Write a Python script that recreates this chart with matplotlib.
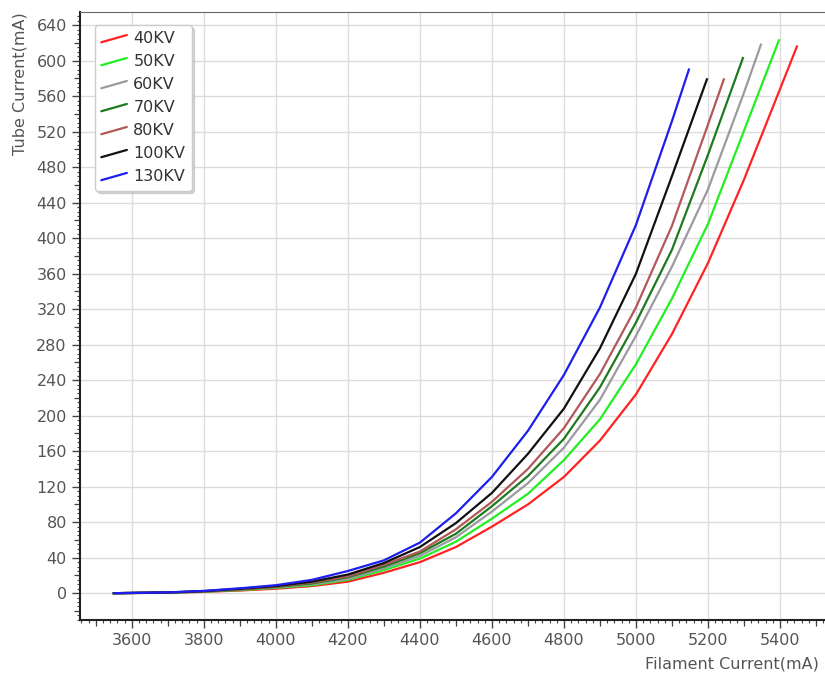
import matplotlib
matplotlib.use('Agg')
import matplotlib.pyplot as plt
from matplotlib.lines import Line2D
from matplotlib.legend_handler import HandlerLine2D
from matplotlib.ticker import MultipleLocator

# filament current (mA) / tube current (mA)
fil_40 = [3550, 3700, 3800, 3900, 4000, 4100, 4200, 4300, 4400, 4500, 4600, 4700, 4800, 4900, 5000, 5100, 5200, 5300, 5400, 5447]
tube_40 = [0, 0.5, 1.5, 3, 5, 8, 13, 23, 35, 52, 75, 100, 131, 172, 224, 292, 372, 466, 568, 616]

fil_50 = [3550, 3700, 3800, 3900, 4000, 4100, 4200, 4300, 4400, 4500, 4600, 4700, 4800, 4900, 5000, 5100, 5200, 5300, 5397]
tube_50 = [0, 0.6, 1.7, 3.5, 6, 9, 15, 26, 39, 58, 84, 112, 150, 196, 258, 332, 416, 521, 623]

fil_60 = [3550, 3700, 3800, 3900, 4000, 4100, 4200, 4300, 4400, 4500, 4600, 4700, 4800, 4900, 5000, 5100, 5200, 5300, 5347]
tube_60 = [0, 0.6, 2, 4, 6.5, 10, 16, 28, 42, 63, 92, 124, 164, 218, 290, 368, 455, 564, 618]

fil_70 = [3550, 3700, 3800, 3900, 4000, 4100, 4200, 4300, 4400, 4500, 4600, 4700, 4800, 4900, 5000, 5100, 5200, 5297]
tube_70 = [0, 0.7, 2, 4, 7, 11, 18, 30, 45, 67, 98, 132, 174, 232, 305, 387, 494, 603]

fil_80 = [3550, 3700, 3800, 3900, 4000, 4100, 4200, 4300, 4400, 4500, 4600, 4700, 4800, 4900, 5000, 5100, 5200, 5244]
tube_80 = [0, 0.7, 2, 4.5, 7.5, 12, 19, 32, 47, 72, 103, 140, 186, 247, 322, 414, 528, 579]

fil_100 = [3550, 3700, 3800, 3900, 4000, 4100, 4200, 4300, 4400, 4500, 4600, 4700, 4800, 4900, 5000, 5100, 5197]
tube_100 = [0, 0.8, 2.3, 5, 8, 13, 21, 34, 52, 79, 113, 157, 208, 276, 360, 470, 579]

fil_130 = [3550, 3700, 3800, 3900, 4000, 4100, 4200, 4300, 4400, 4500, 4600, 4700, 4800, 4900, 5000, 5100, 5147]
tube_130 = [0, 0.9, 2.6, 5.5, 9, 15, 25, 37, 57, 90, 131, 183, 246, 322, 415, 532, 590]

labels = ['40KV', '50KV', '60KV', '70KV', '80KV', '100KV', '130KV']
colors = ['#ff2222', '#22ee22', '#9a9aa0', '#1e7a1e', '#b25858', '#111111', '#1e1eee']
series = [(fil_40, tube_40), (fil_50, tube_50), (fil_60, tube_60), (fil_70, tube_70),
          (fil_80, tube_80), (fil_100, tube_100), (fil_130, tube_130)]


# legend keys in the reference are short slanted strokes
class SlantHandler(HandlerLine2D):
    def create_artists(self, legend, orig_handle, xdescent, ydescent, width, height, fontsize, trans):
        line = Line2D([-xdescent, -xdescent + width], [-ydescent + height * 0.1, -ydescent + height * 0.75],
                      color=orig_handle.get_color(), lw=orig_handle.get_linewidth(), solid_capstyle='round')
        line.set_transform(trans)
        return [line]


plt.rcParams['font.family'] = ['DejaVu Sans']
fig = plt.figure(figsize=(8.25, 6.8), dpi=100)
ax = fig.add_axes([0.097, 0.088, 0.903, 0.894])

for (xs, ys), lab, c in zip(series, labels, colors):
    ax.plot(xs, ys, color=c, lw=1.6, label=lab)

ax.set_xlim(3456, 5525)
ax.set_ylim(-30.4, 654.6)

ax.xaxis.set_major_locator(MultipleLocator(200))
ax.xaxis.set_minor_locator(MultipleLocator(20))
ax.yaxis.set_major_locator(MultipleLocator(40))
ax.yaxis.set_minor_locator(MultipleLocator(5))
ax.grid(True, which='major', color='#dcdcdc', lw=1)
ax.set_axisbelow(True)

ax.tick_params(which='major', length=6, width=1, color='#444444', labelsize=11.5, labelcolor='#555555')
ax.tick_params(which='minor', length=2.5, width=0.8, color='#444444')

# medium ticks halfway between the labelled ones
secx = ax.secondary_xaxis('bottom')
secx.set_xticks([3500 + 200 * i for i in range(11)])
secx.tick_params(length=4, width=0.9, color='#444444', labelbottom=False)
secx.spines['bottom'].set_visible(False)
secy = ax.secondary_yaxis('left')
secy.set_yticks([-20 + 40 * i for i in range(18)])
secy.tick_params(length=4, width=0.9, color='#444444', labelleft=False)
secy.spines['left'].set_visible(False)

for s in ['left', 'bottom']:
    ax.spines[s].set_color('#222222')
    ax.spines[s].set_linewidth(1.5)
ax.spines['top'].set_color('#666666')
ax.spines['top'].set_linewidth(0.8)
ax.spines['right'].set_visible(False)

ax.set_xlabel('Filament Current(mA)', loc='right', fontsize=11.5, color='#555555')
ax.xaxis.set_label_coords(0.992, -0.059)
ax.set_ylabel('Tube Current(mA)', loc='top', fontsize=11.5, color='#555555', labelpad=6)

leg = ax.legend(loc='upper left', bbox_to_anchor=(0.02, 0.979), borderaxespad=0,
                handler_map={Line2D: SlantHandler()}, handlelength=1.6, handletextpad=0.4,
                labelspacing=0.5, fontsize=11.5, frameon=True, fancybox=True,
                shadow={'color': '#bbbbbb', 'alpha': 0.6, 'ox': 2, 'oy': -2},
                borderpad=0.4)
leg.get_frame().set_edgecolor('#cccccc')
leg.get_frame().set_linewidth(1)
for t in leg.get_texts():
    t.set_color('#333333')

fig.savefig('out.png', dpi=100)
